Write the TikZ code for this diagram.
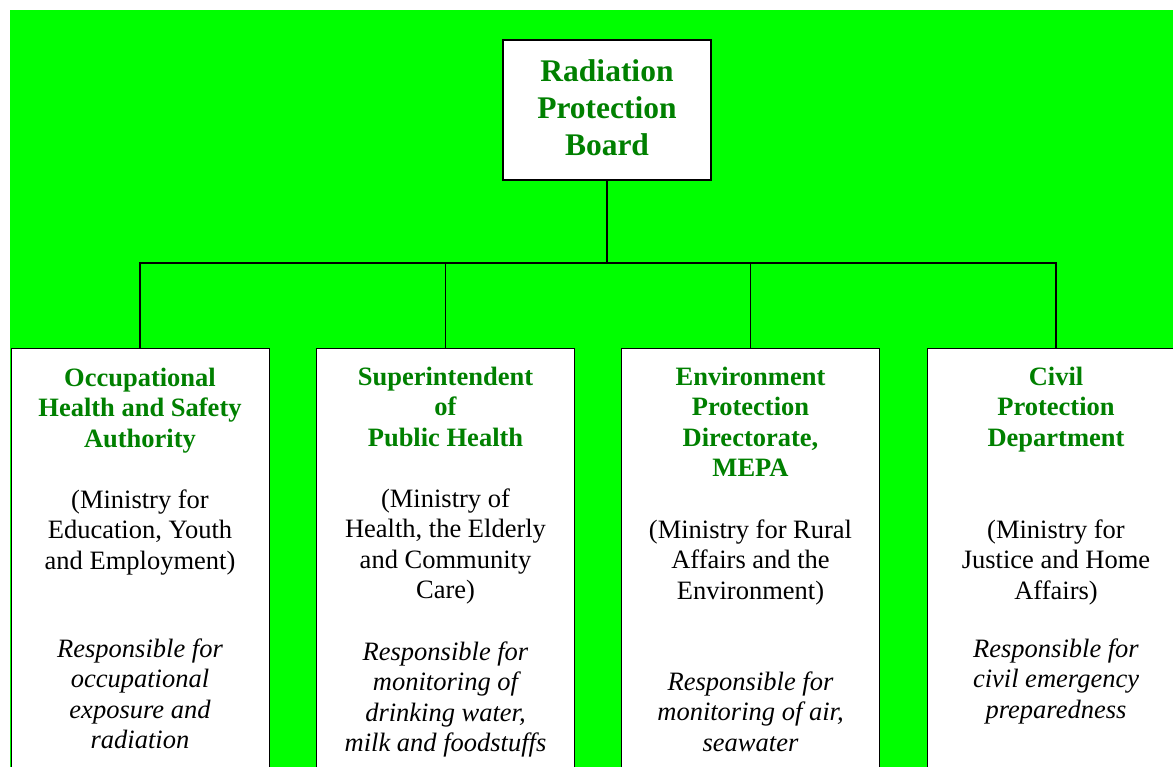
\documentclass[tikz,border=0pt]{standalone}
\usepackage{fontspec}
\setmainfont{Liberation Serif}
\definecolor{bggreen}{RGB}{0,255,0}
\definecolor{tgreen}{RGB}{0,128,0}
\begin{document}
\begin{tikzpicture}[x=1pt,y=-1pt,
  unit/.style={draw=black, fill=white, line width=1pt, minimum width=258pt, minimum height=500pt, anchor=north, inner sep=0pt},
  board/.style={draw=black, fill=white, line width=1.5pt, minimum width=208pt, minimum height=140pt, anchor=north, inner sep=0pt},
  bigttl/.style={font=\fontsize{31.5}{37}\selectfont\bfseries, text=tgreen, align=center, anchor=north, inner sep=0pt},
  ttl/.style={font=\fontsize{26.5}{30.5}\selectfont\bfseries, text=tgreen, align=center, anchor=north, inner sep=0pt},
  mins/.style={font=\fontsize{26.5}{30.5}\selectfont, text=black, align=center, anchor=north, inner sep=0pt},
  resp/.style={font=\fontsize{26.5}{30.5}\selectfont\itshape, text=black, align=center, anchor=north, inner sep=0pt},
  link/.style={draw=black, line width=1.4pt}
]
\clip (0,0) rectangle (1173,766);
\fill[bggreen] (10,10) rectangle (1200,800);

% top board
\node[board] (top) at (607,39) {};
\node[bigttl] (ttop) at (607,55.1) {\strut Radiation\\Protection\\Board};

% unit boxes
\node[unit] (b1) at (140,348) {};
\node[unit] (b2) at (445.5,348) {};
\node[unit] (b3) at (750.5,348) {};
\node[unit] (b4) at (1056,348) {};

% connectors
\coordinate (bus) at (0,263);
\draw[link] (top.south) -- (top.south |- bus);
\draw[link] (b1.north) -- (b1.north |- bus) -- (b4.north |- bus) -- (b4.north);
\draw[link] (b2.north) -- (b2.north |- bus);
\draw[link] (b3.north) -- (b3.north |- bus);

% box 1
\node[ttl] (t1) at (140,364.65) {\strut Occupational\\Health and Safety\\Authority};
\node[mins] (m1) at (140,486.65) {\strut (Ministry for\\Education, Youth\\and Employment)};
\node[resp] (r1) at (140,635.65) {\strut Responsible for\\occupational\\exposure and\\radiation};

% box 2
\node[ttl] (t2) at (445.5,363.65) {\strut Superintendent\\of\\Public Health};
\node[mins] (m2) at (445.5,485.65) {\strut (Ministry of\\Health, the Elderly\\and Community\\Care)};
\node[resp] (r2) at (445.5,638.65) {\strut Responsible for\\monitoring of\\drinking water,\\milk and foodstuffs};

% box 3
\node[ttl] (t3) at (750.5,363.65) {\strut Environment\\Protection\\Directorate,\\MEPA};
\node[mins] (m3) at (750.5,516.65) {\strut (Ministry for Rural\\Affairs and the\\Environment)};
\node[resp] (r3) at (750.5,668.65) {\strut Responsible for\\monitoring of air,\\seawater};

% box 4
\node[ttl] (t4) at (1056,363.65) {\strut Civil\\Protection\\Department};
\node[mins] (m4) at (1056,516.65) {\strut (Ministry for\\Justice and Home\\Affairs)};
\node[resp] (r4) at (1056,635.65) {\strut Responsible for\\civil emergency\\preparedness};
\end{tikzpicture}
\end{document}
